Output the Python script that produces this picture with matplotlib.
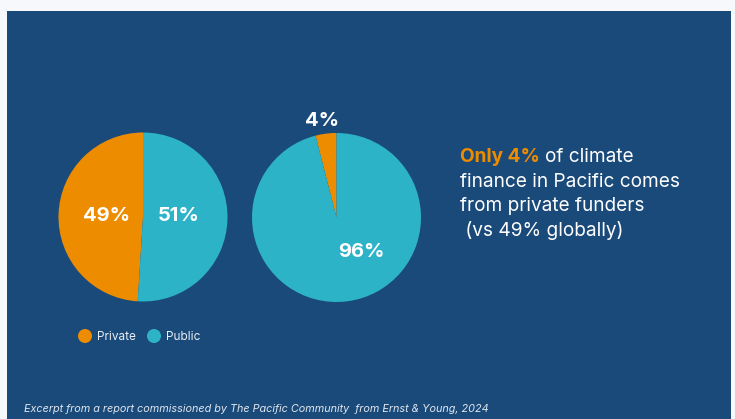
import matplotlib.pyplot as plt
from matplotlib.patches import Rectangle, Ellipse
from matplotlib.transforms import IdentityTransform

plt.rcParams['font.family'] = ['Inter', 'DejaVu Sans']

# data
categories = ['Private', 'Public']
global_share = [49, 51]
pacific_share = [4, 96]
colors = ['#ee8c00', '#2db3c8']

BG = '#f6f8fb'
PANEL = '#1a4a7a'
W, H = 735, 419

fig = plt.figure(figsize=(W / 100, H / 100), dpi=100, facecolor=BG)

# pixel-coordinate canvas behind everything
bg = fig.add_axes([0, 0, 1, 1], facecolor='none', zorder=-1)
bg.set_xlim(0, W)
bg.set_ylim(H, 0)
bg.axis('off')
bg.add_patch(Rectangle((7, 11), 724, H - 11, facecolor=PANEL, edgecolor='none'))

R = 84.5

# label positions (in radius units) for each pie
left_lbl = [(-0.43, 0.01), (0.42, 0.01)]
right_lbl = [(-0.17, 1.14), (0.29, -0.41)]

for (cx, cy), vals, lbl in [((143, 217), global_share, left_lbl),
                            ((336.5, 217.5), pacific_share, right_lbl)]:
    ax = fig.add_axes([(cx - R) / W, (H - cy - R) / H, 2 * R / W, 2 * R / H])
    ax.set_facecolor('none')
    ax.pie(vals, colors=colors, startangle=90, counterclock=True,
           wedgeprops=dict(linewidth=0))
    ax.set_xlim(-1, 1)
    ax.set_ylim(-1, 1)
    ax.set_aspect('equal')
    for v, (lx, ly) in zip(vals, lbl):
        ax.text(lx, ly, f'{v}%', color='white', fontsize=14.5, fontweight='bold',
                ha='center', va='center', clip_on=False)

# legend
for x, c, name in zip([85, 154], colors, categories):
    bg.add_patch(Ellipse((x, 336), 14, 14, facecolor=c, edgecolor='none'))
    bg.text(x + 12, 336.5, name, color='#e8eef5', fontsize=8.5, va='center', ha='left')

# annotation text
fig.canvas.draw()
r = fig.canvas.get_renderer()
fs = 13.7
t1 = bg.text(460, 157, 'Only 4%', color='#ee8c00', fontsize=fs, fontweight='bold',
             va='center', ha='left')
bb = t1.get_window_extent(renderer=r)
bg.text(bb.x1 + 5, H - 157, 'of climate', color='white', fontsize=fs, va='center',
        ha='left', transform=IdentityTransform())
lines = ['finance in Pacific comes', 'from private funders', ' (vs 49% globally)']
for i, s in enumerate(lines):
    bg.text(460, 181.5 + 24.5 * i, s, color='white', fontsize=fs, va='center', ha='left')

bg.text(24, 409, 'Excerpt from a report commissioned by The Pacific Community  from Ernst & Young, 2024',
        color='#dfe6ee', fontsize=7.8, style='italic', va='center', ha='left')

fig.savefig('out.png', dpi=100, facecolor=BG)
